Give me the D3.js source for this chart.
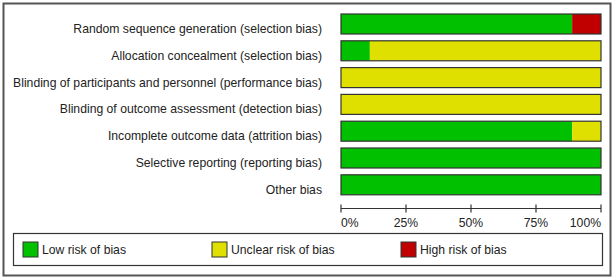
<!DOCTYPE html>
<html>
<head>
<meta charset="utf-8">
<script src="https://cdn.jsdelivr.net/npm/d3@7"></script>
<style>
  body { margin: 0; background: #fff; }
  svg { display: block; font-family: "Liberation Sans", Arial, sans-serif; }
</style>
</head>
<body>
<div id="chart"></div>
<script>
// risk of bias domains (top to bottom)
const domains = [
  "Random sequence generation (selection bias)",
  "Allocation concealment (selection bias)",
  "Blinding of participants and personnel (performance bias)",
  "Blinding of outcome assessment (detection bias)",
  "Incomplete outcome data (attrition bias)",
  "Selective reporting (reporting bias)",
  "Other bias"
];
// percent of studies per judgement
const lowRisk     = [88.9, 11.1, 0, 0, 88.9, 100, 100];
const unclearRisk = [0, 88.9, 100, 100, 11.1, 0, 0];
const highRisk    = [11.1, 0, 0, 0, 0, 0, 0];
const judgements = ["Low risk of bias", "Unclear risk of bias", "High risk of bias"];
const tickValues = [0, 25, 50, 75, 100];

const colors = ["#00c000", "#e0e000", "#c00000"];
const W = 615, H = 280;
const fontSize = 12.2;

const svg = d3.select("#chart").append("svg")
  .attr("width", W).attr("height", H);

// outer frame
svg.append("rect")
  .attr("x", 3.5).attr("y", 3.5).attr("width", 607).attr("height", 272)
  .attr("fill", "#fff").attr("stroke", "#555").attr("stroke-width", 2);

const x = d3.scaleLinear().domain([0, 100]).range([341, 601]);
const y = d3.scaleBand().domain(domains).range([10.6, 198.2])
  .paddingInner(0.254).paddingOuter(0.127);

// stacked segments
const rows = domains.map((d, i) => ({ name: d, vals: [lowRisk[i], unclearRisk[i], highRisk[i]] }));
const stack = d3.stack().keys([0, 1, 2]).value((r, k) => r.vals[k]);
const layers = stack(rows);

svg.append("g").selectAll("g")
  .data(layers).enter().append("g")
  .attr("fill", (d, i) => colors[i])
  .selectAll("rect")
  .data(d => d).enter().append("rect")
  .attr("x", d => x(d[0]))
  .attr("y", d => y(d.data.name))
  .attr("width", d => x(d[1]) - x(d[0]))
  .attr("height", y.bandwidth());

// bar outlines
svg.append("g").selectAll("rect")
  .data(domains).enter().append("rect")
  .attr("x", x(0)).attr("y", d => y(d))
  .attr("width", x(100) - x(0)).attr("height", y.bandwidth())
  .attr("fill", "none").attr("stroke", "#333").attr("stroke-width", 1.2);

// row labels (baseline near the bar bottom, as in the original)
svg.append("g").selectAll("text")
  .data(domains).enter().append("text")
  .attr("x", 322)
  .attr("y", d => y(d) + y.bandwidth() - 1)
  .attr("text-anchor", "end")
  .attr("font-size", fontSize)
  .attr("fill", "#222")
  .text(d => d);

// axis
const axis = svg.append("g").attr("transform", "translate(0,208.5)");
axis.append("line")
  .attr("x1", x(0)).attr("x2", x(100))
  .attr("stroke", "#333").attr("stroke-width", 1.2);
axis.selectAll(".tick").data(tickValues).enter().append("line")
  .attr("x1", d => x(d)).attr("x2", d => x(d))
  .attr("y1", -4).attr("y2", 4)
  .attr("stroke", "#333").attr("stroke-width", 1.2);
axis.selectAll("text").data(tickValues).enter().append("text")
  .attr("x", d => x(d))
  .attr("y", 18)
  .attr("text-anchor", (d, i) => i === 0 ? "start" : (i === tickValues.length - 1 ? "end" : "middle"))
  .attr("font-size", fontSize)
  .attr("fill", "#222")
  .text(d => d + "%");

// legend
const legend = svg.append("g");
legend.append("rect")
  .attr("x", 13.5).attr("y", 233.5).attr("width", 589).attr("height", 32)
  .attr("fill", "none").attr("stroke", "#333").attr("stroke-width", 1.2);
const legendX = [23, 212, 401];
const item = legend.selectAll("g.item").data(judgements).enter().append("g")
  .attr("transform", (d, i) => `translate(${legendX[i]},242)`);
item.append("rect")
  .attr("width", 15).attr("height", 15)
  .attr("fill", (d, i) => colors[i])
  .attr("stroke", "#333").attr("stroke-width", 1);
item.append("text")
  .attr("x", 19).attr("y", 8).attr("dy", "0.35em")
  .attr("font-size", fontSize).attr("fill", "#222")
  .text(d => d);
</script>
</body>
</html>
